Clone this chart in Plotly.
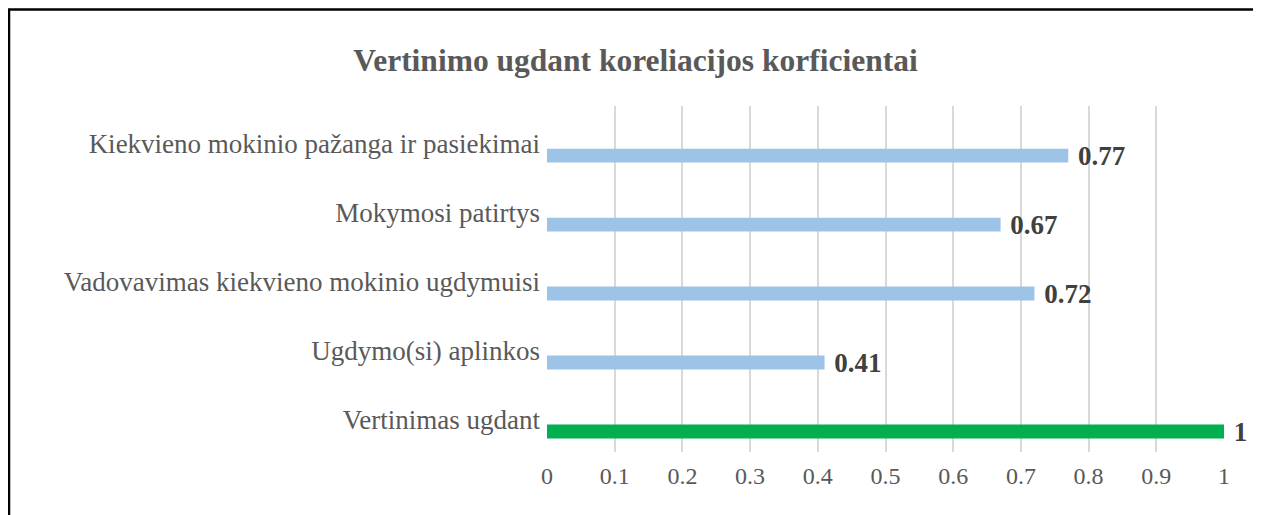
import plotly.graph_objects as go

# bottom -> top, as drawn
categories = [
    "Vertinimas ugdant",
    "Ugdymo(si) aplinkos",
    "Vadovavimas kiekvieno mokinio ugdymuisi",
    "Mokymosi patirtys",
    "Kiekvieno mokinio pažanga ir pasiekimai",
]
values = [1, 0.41, 0.72, 0.67, 0.77]
bar_colors = ["#00B050", "#9DC3E6", "#9DC3E6", "#9DC3E6", "#9DC3E6"]

x_ticks = [0, 0.1, 0.2, 0.3, 0.4, 0.5, 0.6, 0.7, 0.8, 0.9, 1]
x_ticktext = ["0", "0.1", "0.2", "0.3", "0.4", "0.5", "0.6", "0.7", "0.8", "0.9", "1"]

SERIF = "Liberation Serif, Times New Roman, serif"
GRAY = "#595959"

# page body has an 8px margin, so the figure starts at (8, 8)
W, H = 1253, 507
L, R, T, B = 539, 37, 98, 63
pw, ph = W - L - R, H - T - B

fig = go.Figure()
fig.add_bar(
    y=categories, x=values, orientation="h",
    marker=dict(color=bar_colors, line=dict(width=0)),
    width=0.2, offset=-0.267,
    text=[f" {v:g}" for v in values], textposition="outside",
    textfont=dict(family=SERIF, size=27, color="#404040", weight="bold"),
    constraintext="none", cliponaxis=False,
)

# outer frame of the chart (bottom edge falls below the picture)
fig.add_shape(
    type="rect", xref="paper", yref="paper", layer="above",
    x0=(1 - L) / pw, x1=(1251 - L) / pw,
    y0=(H - T - 530) / ph, y1=(H - B - 1.5) / ph,
    line=dict(color="black", width=2.5), fillcolor="rgba(0,0,0,0)",
)

fig.update_layout(
    width=W, height=H,
    margin=dict(l=L, r=R, t=T, b=B),
    paper_bgcolor="white", plot_bgcolor="white",
    showlegend=False,
    title=dict(
        text="<b>Vertinimo ugdant koreliacijos korficientai</b>",
        font=dict(family=SERIF, size=31.5, color=GRAY),
        x=(627.5 - L) / pw, xref="paper", xanchor="center",
        y=1 - 52 / H, yanchor="middle",
    ),
    font=dict(family=SERIF, color=GRAY),
)
fig.update_xaxes(
    range=[0, 1], tickvals=x_ticks, ticktext=x_ticktext,
    showgrid=True, gridcolor="#D9D9D9", gridwidth=1.5,
    zeroline=False, showline=False, ticks="",
    ticklabelstandoff=7,
    tickfont=dict(family=SERIF, size=24, color=GRAY),
)
fig.update_yaxes(
    type="category", categoryorder="array", categoryarray=categories,
    range=[-0.464, 4.551],
    showgrid=False, zeroline=False, showline=False, ticks="",
    ticklabelstandoff=6,
    tickfont=dict(family=SERIF, size=27, color=GRAY),
)

fig.write_html("out.html")
